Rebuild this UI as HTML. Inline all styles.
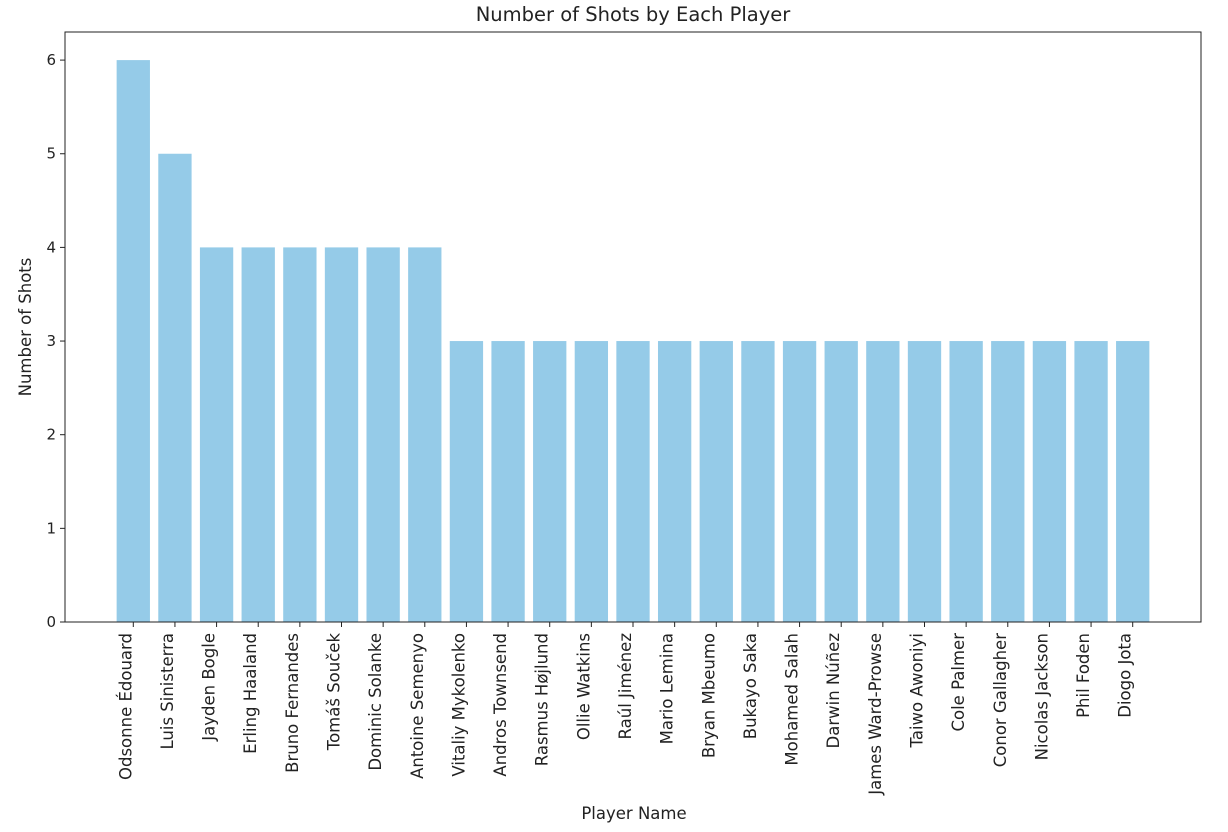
<!DOCTYPE html>
<html><head><meta charset="utf-8"><style>
body{margin:0;background:#fff;}
svg{display:block;font-family:"DejaVu Sans","Liberation Sans",sans-serif;}
</style></head><body>
<svg id="chart" width="1228" height="832">
<text x="633" y="21" font-size="19.5" text-anchor="middle" fill="#222">Number of Shots by Each Player</text>
<text x="634" y="819" font-size="16.5" text-anchor="middle" fill="#222">Player Name</text>
<text transform="translate(31,327) rotate(-90)" font-size="16.5" text-anchor="middle" fill="#222">Number of Shots</text>
<g id="bars"></g><g id="xticks"></g><g id="yticks"></g>
<rect x="65" y="32" width="1136" height="590" fill="none" stroke="#222" stroke-width="1"/>
</svg>
<script>
const players=["Odsonne Édouard","Luis Sinisterra","Jayden Bogle","Erling Haaland","Bruno Fernandes","Tomáš Souček","Dominic Solanke","Antoine Semenyo","Vitaliy Mykolenko","Andros Townsend","Rasmus Højlund","Ollie Watkins","Raúl Jiménez","Mario Lemina","Bryan Mbeumo","Bukayo Saka","Mohamed Salah","Darwin Núñez","James Ward-Prowse","Taiwo Awoniyi","Cole Palmer","Conor Gallagher","Nicolas Jackson","Phil Foden","Diogo Jota"];
const shots=[6,5,4,4,4,4,4,4,3,3,3,3,3,3,3,3,3,3,3,3,3,3,3,3,3];
const yTicks=[0,1,2,3,4,5,6];
const NS="http://www.w3.org/2000/svg";
const L=65,R=1201,T=32,B=622;
const n=players.length;
const xmin=-0.4-0.05*(n-0.2),xmax=n-1+0.4+0.05*(n-0.2);
const ymax=Math.max(...shots)*1.05;
const xs=v=>L+(v-xmin)/(xmax-xmin)*(R-L);
const ys=v=>B-v/ymax*(B-T);
function mk(t,a,p){const e=document.createElementNS(NS,t);for(const k in a)e.setAttribute(k,a[k]);p.appendChild(e);return e;}
const gb=document.getElementById('bars'),gx=document.getElementById('xticks'),gy=document.getElementById('yticks');
players.forEach((p,i)=>{
  const x0=xs(i-0.4),x1=xs(i+0.4);
  const r=mk('rect',{x:x0,y:ys(shots[i]),width:x1-x0,height:B-ys(shots[i]),fill:'#95cbe8'},gb);
  
  
  const cx=xs(i);
  const tk=mk('line',{x1:cx,x2:cx,y1:B,y2:B+5,stroke:'#222'},gx);
  
  
  const t=mk('text',{transform:`translate(${cx-2},${B+11}) rotate(-90)`,'font-size':16.5,'text-anchor':'end',fill:'#222'},gx);
  t.textContent=p;
  
  
});
yTicks.forEach(v=>{
  const y=ys(v);
  const tk=mk('line',{x1:L-5,x2:L,y1:y,y2:y,stroke:'#222'},gy);
  
  
  const t=mk('text',{x:L-9,y:y+5,'font-size':15,'text-anchor':'end',fill:'#222'},gy);
  t.textContent=v;
  
  
});
</script>
</body></html>
